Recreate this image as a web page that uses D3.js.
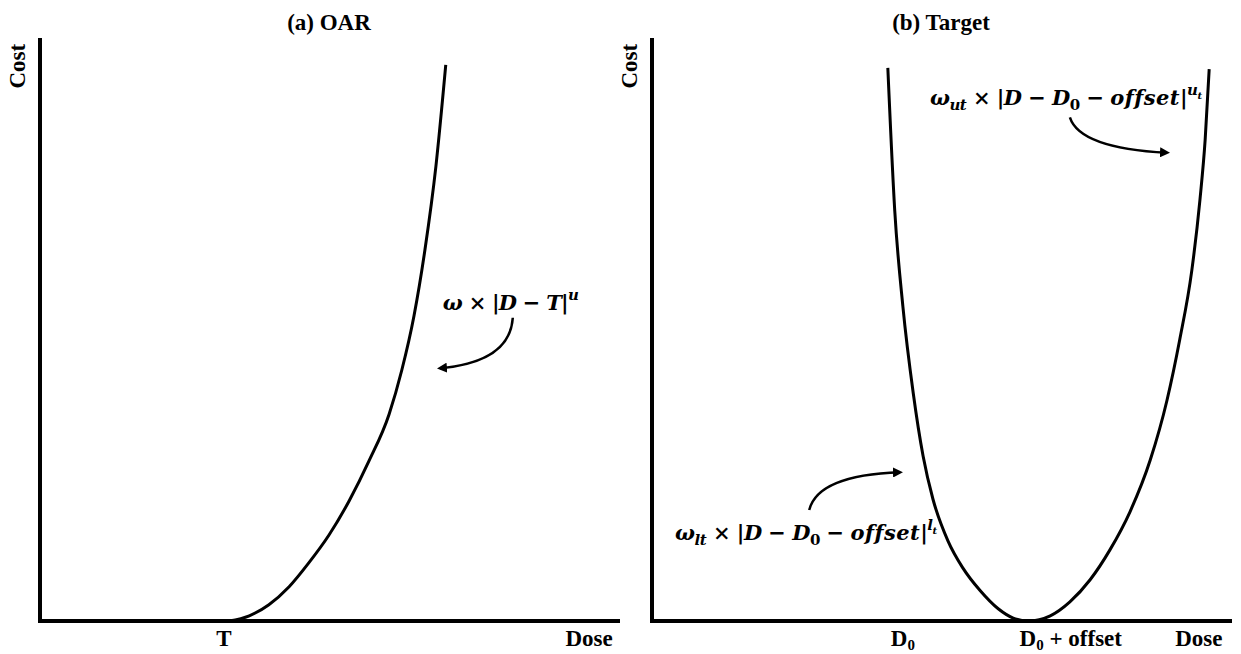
<!DOCTYPE html>
<html>
<head>
<meta charset="utf-8">
<script src="https://cdn.jsdelivr.net/npm/d3@7"></script>
<style>
  body { margin: 0; background: #fff; }
  svg { display: block; }
  .lbl { font-family: "Liberation Serif", "Times New Roman", serif; font-weight: bold; fill: #000; }
  .math { font-family: "DejaVu Serif", "Liberation Serif", serif; font-weight: bold; fill: #000; }
</style>
</head>
<body>
<div class="chart"></div>
<script>
// panel titles
const titles = ["(a) OAR", "(b) Target"];

// OAR cost curve (dose 0-100, cost 0-100)
const oarDose = [32.7, 36.2, 39.6, 43.1, 46.5, 50.0, 53.5, 56.9, 60.4, 62.6, 64.7, 66.6, 68.5, 70.2];
const oarCost = [0, 0.9, 2.8, 5.9, 10.0, 14.8, 20.7, 27.5, 35.6, 43.2, 52.5, 63.9, 78.3, 95.7];

// target cost curve
const tgtDose = [40.8, 42.0, 43.4, 45.2, 46.9, 48.6, 51.2, 53.8, 56.8, 59.9, 62.5, 65.1,
                 68.9, 72.3, 75.8, 79.2, 82.7, 86.2, 89.1, 91.3, 93.4, 94.8, 95.7, 96.4];
const tgtCost = [95.2, 70.6, 54.2, 39.2, 28.4, 21.0, 13.8, 9.1, 5.2, 2.1, 0.5, 0,
                 0.9, 3.3, 7.1, 12.2, 18.8, 27.7, 38.0, 48.4, 60.4, 72.5, 82.8, 95.0];

// x tick labels
const oarTicks = [{ v: 31.8, t: "T" }, { v: 95.0, t: "Dose" }];
const tgtTicks = [
   { v: 43.4, t: "D", sub: "0" },
   { v: 63.6, t: "D", sub: "0", rest: " + offset", anchor: "start" },
   { v: 94.6, t: "Dose" }
];

const width = 1241;
const height = 654;

const svg = d3.select(".chart")
   .append("svg")
   .attr("width", width)
   .attr("height", height);

svg.append("defs")
   .append("marker")
   .attr("id", "head")
   .attr("viewBox", "0 0 10 10")
   .attr("refX", 7)
   .attr("refY", 5)
   .attr("markerWidth", 4)
   .attr("markerHeight", 4)
   .attr("orient", "auto")
   .append("path")
   .attr("d", "M0,0L10,5L0,10Z")
   .attr("fill", "#000");

const y = d3.scaleLinear().domain([0, 100]).range([621, 40]);
const xL = d3.scaleLinear().domain([0, 100]).range([40, 618]);
const xR = d3.scaleLinear().domain([0, 100]).range([652, 1230]);

function drawPanel(x, title, ticks) {
   const g = svg.append("g");
   // axes
   g.append("path")
      .attr("d", `M${x(0)},${y(100)}V${y(0)}H${x(100)}`)
      .attr("fill", "none")
      .attr("stroke", "#000")
      .attr("stroke-width", 4)
      .attr("stroke-linecap", "square");

   g.append("text")
      .attr("class", "lbl")
      .attr("x", (x(0) + x(100)) / 2)
      .attr("y", 30)
      .attr("text-anchor", "middle")
      .style("font-size", "23px")
      .text(title);

   g.append("text")
      .attr("class", "lbl")
      .attr("transform", `translate(${x(0) - 15},${y(95.5)}) rotate(-90)`)
      .attr("text-anchor", "middle")
      .style("font-size", "23px")
      .text("Cost");

   ticks.forEach((d) => {
      const t = g.append("text")
         .attr("class", "lbl")
         .attr("x", x(d.v))
         .attr("y", 646)
         .attr("text-anchor", d.anchor || "middle")
         .style("font-size", "23px");
      t.append("tspan").text(d.t);
      if (d.sub) {
         t.append("tspan").attr("dy", 4).style("font-size", "15px").text(d.sub);
         if (d.rest) t.append("tspan").attr("dy", -4).text(d.rest);
      }
   });
   return g;
}

drawPanel(xL, titles[0], oarTicks);
drawPanel(xR, titles[1], tgtTicks);

const line = d3.line().curve(d3.curveMonotoneX);

svg.append("path")
   .attr("d", line(oarDose.map((d, i) => [xL(d), y(oarCost[i])])))
   .attr("fill", "none")
   .attr("stroke", "#000")
   .attr("stroke-width", 3);

svg.append("path")
   .attr("d", line(tgtDose.map((d, i) => [xR(d), y(tgtCost[i])])))
   .attr("fill", "none")
   .attr("stroke", "#000")
   .attr("stroke-width", 3);

// formulas: [text, italic?, level, letter spacing]
function formula(x0, y0, parts, len) {
   const t = svg.append("text")
      .attr("class", "math")
      .attr("x", x0)
      .attr("y", y0)
      .style("font-size", "21px");
   const shift = { base: 0, sub: 5, sup: -10, supsub: -6 };
   const size = { base: 21, sub: 15, sup: 15, supsub: 10 };
   parts.forEach(([s, it, lv, ls]) => {
      t.append("tspan")
         .attr("y", y0 + shift[lv || "base"])
         .style("font-style", it ? "italic" : "normal")
         .style("font-size", size[lv || "base"] + "px")
         .style("letter-spacing", ls ? ls + "px" : null)
         .text(s);
   });
   if (len) t.attr("textLength", len).attr("lengthAdjust", "spacing");
}

formula(xL(69.7), y(53.5), [
   ["ω", 1], [" × |", 0], ["D", 1], [" − ", 0], ["T", 1], ["|", 0], ["u", 1, "sup"]
], 136);

formula(xR(4.0), y(13.9), [
   ["ω", 1], ["lt", 1, "sub"], [" × |", 0], ["D", 1], [" − ", 0], ["D", 1], ["0", 0, "sub"],
   [" − ", 0], ["offset", 1, "base", 1], ["|", 0], ["l", 1, "sup"], ["t", 1, "supsub"]
], 262);

formula(xR(48.1), y(88.8), [
   ["ω", 1], ["ut", 1, "sub"], [" × |", 0], ["D", 1], [" − ", 0], ["D", 1], ["0", 0, "sub"],
   [" − ", 0], ["offset", 1, "base", 1], ["|", 0], ["u", 1, "sup"], ["t", 1, "supsub"]
], 272);

// curved arrows: start, control, end (data units)
function arrow(x, s, c, e) {
   const p = d3.path();
   p.moveTo(x(s[0]), y(s[1]));
   p.quadraticCurveTo(x(c[0]), y(c[1]), x(e[0]), y(e[1]));
   svg.append("path")
      .attr("d", p.toString())
      .attr("fill", "none")
      .attr("stroke", "#000")
      .attr("stroke-width", 2.5)
      .attr("marker-end", "url(#head)");
}

arrow(xL, [81.8, 52.2], [81.3, 44.6], [69.2, 43.5]);
arrow(xR, [27.2, 19.1], [28.7, 25.1], [42.9, 25.6]);
arrow(xR, [72.3, 86.7], [74.0, 81.4], [89.1, 80.6]);
</script>
</body>
</html>
